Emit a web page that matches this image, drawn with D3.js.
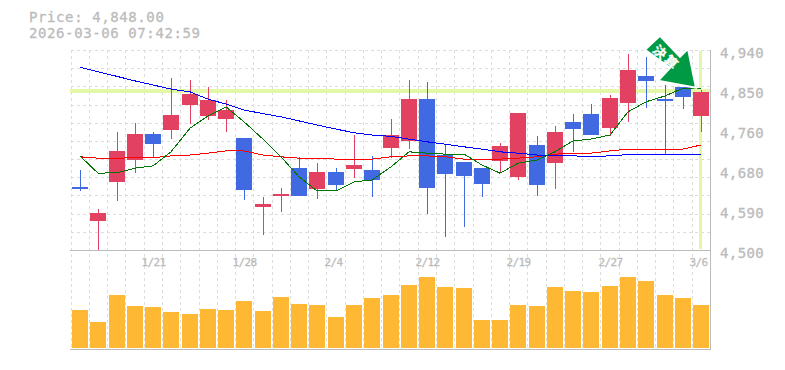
<!DOCTYPE html>
<html>
<head>
<meta charset="utf-8">
<script src="https://d3js.org/d3.v7.min.js"></script>
<style>
body { margin: 0; background: #fff; }
svg { display: block; }
text { font-family: "DejaVu Sans Mono", monospace; fill: #bbb; stroke: #bbb; stroke-width: 0.3px; }
</style>
</head>
<body>
<svg class="stockChart" width="785" height="370"></svg>
<script>
const dates = ["1/15","1/16","1/19","1/20","1/21","1/22","1/23","1/26","1/27","1/28","1/29","1/30","2/2","2/3","2/4","2/5","2/6","2/9","2/10","2/12","2/13","2/16","2/17","2/18","2/19","2/20","2/24","2/25","2/26","2/27","3/2","3/3","3/4","3/5","3/6"];
const dateLabels = ["1/21","1/28","2/4","2/12","2/19","2/27","3/6"];
const opens  = [4639,4564,4650,4698,4755,4764,4819,4795,4788,4746,4595,4619,4680,4634,4672,4678,4676,4724,4740,4832,4709,4694,4680,4696,4661,4731,4691,4782,4799,4768,4823,4883,4832,4859,4795];
const highs  = [4676,4590,4760,4779,4760,4878,4874,4859,4830,4746,4617,4636,4705,4691,4680,4753,4707,4788,4874,4870,4733,4694,4680,4735,4801,4751,4773,4799,4821,4841,4931,4925,4863,4859,4852];
const lows   = [4630,4500,4608,4669,4702,4744,4777,4786,4760,4610,4533,4584,4619,4612,4632,4658,4617,4702,4722,4579,4529,4551,4617,4669,4654,4619,4634,4716,4753,4751,4782,4812,4711,4810,4760];
const closes = [4634,4581,4718,4755,4733,4797,4843,4830,4808,4632,4601,4623,4619,4672,4643,4687,4654,4753,4832,4636,4667,4663,4645,4729,4801,4643,4760,4766,4753,4834,4896,4872,4828,4837,4848];
const maShort = [4707,4669,4670,4680,4685,4716,4768,4795,4815,4782,4744,4705,4661,4630,4630,4650,4654,4683,4716,4713,4711,4711,4687,4669,4691,4698,4716,4740,4744,4753,4804,4826,4839,4856,4856];
const maMid   = [4705,4702,4702,4703,4703,4707,4709,4713,4718,4718,4709,4705,4702,4702,4700,4700,4700,4705,4707,4707,4705,4700,4699,4700,4702,4705,4711,4712,4713,4718,4722,4722,4722,4722,4731];
const maLong  = [4902,4892,4882,4872,4863,4854,4848,4832,4821,4808,4800,4793,4784,4775,4766,4758,4753,4750,4744,4738,4733,4727,4722,4716,4713,4709,4707,4707,4706,4707,4710,4710,4710,4710,4710];
const volumes = [38,26,53,42,41,36,34,39,38,47,37,51,44,43,31,43,50,53,63,71,61,60,28,28,43,42,61,57,56,62,71,67,53,50,43];
const priceTicks = [4500,4588,4676,4764,4852,4940];
const lastPrice = 4848;

const svg = d3.select("svg.stockChart");

const x = d3.scaleBand().domain(dates).range([70.7, 710]);
const y = d3.scaleLinear().domain([4500, 4940]).range([250, 50]);
const yVol = d3.scaleLinear().domain([0, d3.max(volumes)]).range([348, 277]);

const barX = (d) => Math.round(x(d) + 1.3);
const center = (d) => barX(d) + 8;

// grid
const grid = svg.append("g")
    .attr("stroke", "#ddd")
    .attr("stroke-dasharray", "3,3")
    .attr("shape-rendering", "crispEdges");

grid.selectAll("line.v")
    .data(dates)
    .join("line")
    .attr("class", "v")
    .attr("x1", (d) => Math.round(x(d)) + 0.5)
    .attr("x2", (d) => Math.round(x(d)) + 0.5)
    .attr("y1", 50)
    .attr("y2", 350);

grid.selectAll("line.h")
    .data(d3.range(4500, 4940 + 1, 40))
    .join("line")
    .attr("class", "h")
    .attr("x1", 70.7)
    .attr("x2", 710)
    .attr("y1", (d) => Math.round(y(d)) + 0.5)
    .attr("y2", (d) => Math.round(y(d)) + 0.5);

// last price guide
svg.append("line")
    .attr("x1", 70).attr("x2", 710)
    .attr("y1", y(lastPrice) - 0.5).attr("y2", y(lastPrice) - 0.5)
    .attr("stroke", "#e4f6a8").attr("stroke-width", 4)
    .attr("shape-rendering", "crispEdges");

svg.append("line")
    .attr("x1", center(dates[34]) - 0.5).attr("x2", center(dates[34]) - 0.5)
    .attr("y1", 51).attr("y2", 249)
    .attr("stroke", "#e4f6a8").attr("stroke-width", 3)
    .attr("shape-rendering", "crispEdges");

// frame
const frame = svg.append("g")
    .attr("stroke", "#bbb")
    .attr("shape-rendering", "crispEdges");
frame.append("line").attr("x1", 70).attr("x2", 710).attr("y1", 250.5).attr("y2", 250.5);
frame.append("line").attr("x1", 70).attr("x2", 710).attr("y1", 349.5).attr("y2", 349.5);
frame.append("line").attr("x1", 710.5).attr("x2", 710.5).attr("y1", 50).attr("y2", 350);

// volume
svg.append("g")
    .selectAll("rect")
    .data(dates)
    .join("rect")
    .attr("x", (d) => barX(d))
    .attr("width", 16)
    .attr("y", (d, i) => yVol(volumes[i]))
    .attr("height", (d, i) => yVol(0) - yVol(volumes[i]))
    .attr("fill", "#ffb833")
    .attr("shape-rendering", "crispEdges");

// candles
const red = "#e24162", blue = "#4169e2";
const candles = svg.append("g").attr("shape-rendering", "crispEdges");

candles.selectAll("line")
    .data(dates)
    .join("line")
    .attr("x1", (d) => center(d))
    .attr("x2", (d) => center(d))
    .attr("y1", (d, i) => y(highs[i]))
    .attr("y2", (d, i) => y(lows[i]))
    .attr("stroke", (d, i) => closes[i] >= opens[i] ? red : blue)
    .attr("stroke-width", 1);

candles.selectAll("rect")
    .data(dates)
    .join("rect")
    .attr("x", (d) => barX(d))
    .attr("width", 16)
    .attr("y", (d, i) => y(Math.max(opens[i], closes[i])))
    .attr("height", (d, i) => Math.max(1, Math.abs(y(opens[i]) - y(closes[i]))))
    .attr("fill", (d, i) => closes[i] >= opens[i] ? red : blue);

// moving averages
const line = d3.line()
    .curve(d3.curveLinear)
    .x((d, i) => center(dates[i]))
    .y((d) => y(d));

[[maMid, "#f00"], [maLong, "#00f"], [maShort, "#070"]].forEach(([set, color]) => {
    svg.append("path")
        .attr("d", line(set))
        .attr("fill", "none")
        .attr("stroke", color)
        .attr("stroke-width", 1)
        .attr("shape-rendering", "crispEdges");
});

// arrow marker at the last candles
const arrow = svg.append("g")
    .attr("transform", "translate(" + (center(dates[34]) - 5) + "," + (y(lastPrice) - 4) + ")");

arrow.append("path")
    .attr("d", "M-36,-52L-16,-31L-8,-39L0,0L-38,-7L-26,-20L-51,-38Z")
    .attr("fill", "#094")
    .attr("stroke", "#fff")
    .attr("stroke-width", 2);

arrow.append("text")
    .attr("transform", "translate(-30,-30) rotate(42)")
    .attr("text-anchor", "middle")
    .attr("dy", "0.35em")
    .attr("font-size", 13)
    .attr("font-weight", "bold")
    .attr("letter-spacing", 2)
    .style("font-family", "'Noto Sans CJK JP'")
    .style("fill", "#fff")
    .style("stroke", "#fff")
    .text("決算");

// labels
svg.append("g")
    .selectAll("text")
    .data(priceTicks)
    .join("text")
    .attr("x", 720)
    .attr("y", (d) => y(d) + 8)
    .attr("font-size", 14)
    .attr("letter-spacing", 0.4)
    .text((d) => d3.format(",")(Math.round(d / 10) * 10));

svg.append("g")
    .selectAll("text")
    .data(dateLabels)
    .join("text")
    .attr("x", (d) => center(d) - 11.5)
    .attr("y", 266)
    .attr("font-size", 11)
    .attr("letter-spacing", -0.6)
    .text((d) => d);

svg.append("text")
    .attr("x", 29).attr("y", 22)
    .attr("font-size", 14)
    .attr("letter-spacing", 0.6)
    .text("Price: " + d3.format(",.2f")(lastPrice));

svg.append("text")
    .attr("x", 29).attr("y", 38)
    .attr("font-size", 14)
    .attr("letter-spacing", 0.6)
    .text("2026-03-06 07:42:59");
</script>
</body>
</html>
